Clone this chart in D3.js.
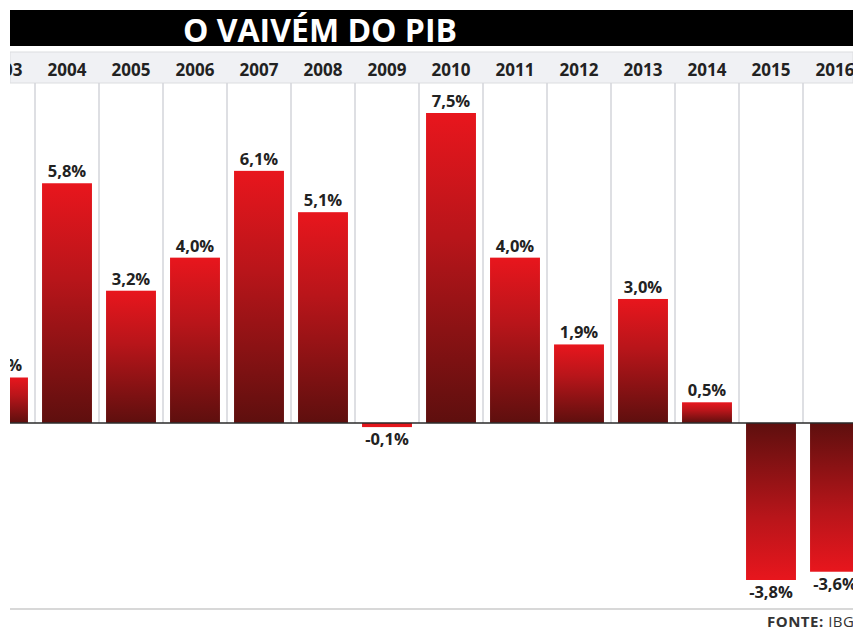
<!DOCTYPE html>
<html>
<head>
<meta charset="utf-8">
<script src="https://cdn.jsdelivr.net/npm/d3@7"></script>
<style>
  body { margin: 0; background: #fff; }
  svg { display: block; font-family: "Open Sans", sans-serif; }
</style>
</head>
<body>
<div id="chart"></div>
<script>
// data
const years = ["2003", "2004", "2005", "2006", "2007", "2008", "2009", "2010", "2011", "2012", "2013", "2014", "2015", "2016"];
const growth = [1.1, 5.8, 3.2, 4.0, 6.1, 5.1, -0.1, 7.5, 4.0, 1.9, 3.0, 0.5, -3.8, -3.6];
const valueLabels = ["1,1%", "5,8%", "3,2%", "4,0%", "6,1%", "5,1%", "-0,1%", "7,5%", "4,0%", "1,9%", "3,0%", "0,5%", "-3,8%", "-3,6%"];

const rows = years.map((y, i) => ({ year: y, value: growth[i], label: valueLabels[i] }));

const width = 853, height = 628;
const left = 10;

const svg = d3.select("#chart")
    .append("svg")
    .attr("width", width)
    .attr("height", height);

const defs = svg.append("defs");

defs.append("clipPath")
    .attr("id", "clip")
    .append("rect")
    .attr("x", left).attr("y", 0)
    .attr("width", width - left).attr("height", height);

// bright at the far end, dark near zero
const gradUp = defs.append("linearGradient")
    .attr("id", "gradUp")
    .attr("x1", 0).attr("y1", 0).attr("x2", 0).attr("y2", 1);
gradUp.append("stop").attr("offset", "0%").attr("stop-color", "#e8161d");
gradUp.append("stop").attr("offset", "40%").attr("stop-color", "#b8151a");
gradUp.append("stop").attr("offset", "100%").attr("stop-color", "#5e0f0e");

const gradDown = defs.append("linearGradient")
    .attr("id", "gradDown")
    .attr("x1", 0).attr("y1", 0).attr("x2", 0).attr("y2", 1);
gradDown.append("stop").attr("offset", "0%").attr("stop-color", "#5e0f0e");
gradDown.append("stop").attr("offset", "60%").attr("stop-color", "#b8151a");
gradDown.append("stop").attr("offset", "100%").attr("stop-color", "#e8161d");

const g = svg.append("g").attr("clip-path", "url(#clip)");

const x = d3.scaleBand()
    .domain(years)
    .range([-29, -29 + years.length * 64])
    .paddingInner(0.22)
    .paddingOuter(0.11);

const y = d3.scaleLinear()
    .domain([-3.8, 7.5])
    .range([580, 113]);

// title band
g.append("rect")
    .attr("x", left).attr("y", 10)
    .attr("width", width - left).attr("height", 36)
    .attr("fill", "#000");

g.append("text")
    .attr("x", 320)
    .attr("y", 42)
    .attr("text-anchor", "middle")
    .style("fill", "#fff")
    .style("font-size", "32px")
    .style("font-weight", "bold")
    .text("O VAIVÉM DO PIB");

// header strip with years
g.append("rect")
    .attr("x", left).attr("y", 52)
    .attr("width", width - left).attr("height", 31)
    .attr("fill", "#f0f1f4")
    .attr("stroke", "#dcdde0")
    .attr("stroke-width", 1);

g.append("g")
    .attr("transform", "translate(0,83)")
    .call(d3.axisTop(x).tickSize(0).tickPadding(7))
    .call(a => a.select(".domain").remove())
    .selectAll("text")
    .style("fill", "#222")
    .style("font-size", "17px")
    .style("font-weight", "bold")
    .style("font-family", "'Open Sans', sans-serif");

// column separators
const step = x.step();
g.selectAll(".sep")
    .data(years.slice(1))
    .enter()
    .append("line")
    .attr("class", "sep")
    .attr("x1", d => x(d) - step * 0.11)
    .attr("x2", d => x(d) - step * 0.11)
    .attr("y1", 83)
    .attr("y2", y(0))
    .attr("stroke", "#d3d5da")
    .attr("stroke-width", 1.5);

// bars
g.selectAll(".bar")
    .data(rows)
    .enter()
    .append("rect")
    .attr("class", "bar")
    .attr("x", d => x(d.year))
    .attr("width", x.bandwidth())
    .attr("y", d => d.value >= 0 ? y(d.value) : y(0))
    .attr("height", d => Math.max(Math.abs(y(d.value) - y(0)), 3))
    .attr("fill", d => d.value >= 0 ? "url(#gradUp)" : (d.value > -0.5 ? "#e3161c" : "url(#gradDown)"));

// zero line
g.append("line")
    .attr("x1", left).attr("x2", width)
    .attr("y1", y(0)).attr("y2", y(0))
    .attr("stroke", "#2a2a2a")
    .attr("stroke-width", 1.5);

// value labels
g.selectAll(".val")
    .data(rows)
    .enter()
    .append("text")
    .attr("class", "val")
    .attr("x", d => x(d.year) + x.bandwidth() / 2)
    .attr("y", d => d.value >= 0 ? y(d.value) - 6 : Math.max(y(d.value), y(0) + 3) + 18)
    .attr("text-anchor", "middle")
    .style("fill", "#222")
    .style("font-size", "16.5px")
    .style("font-weight", "bold")
    .text(d => d.label);

// bottom rule and source
g.append("line")
    .attr("x1", left).attr("x2", width)
    .attr("y1", 609).attr("y2", 609)
    .attr("stroke", "#d8d8d8")
    .attr("stroke-width", 2);

const src = g.append("text")
    .attr("x", 767)
    .attr("y", 627)
    .style("fill", "#333")
    .style("font-size", "15px")
    .style("letter-spacing", "0.5px");
src.append("tspan").style("font-weight", "bold").text("FONTE: ");
src.append("tspan").text("IBGE");
</script>
</body>
</html>
